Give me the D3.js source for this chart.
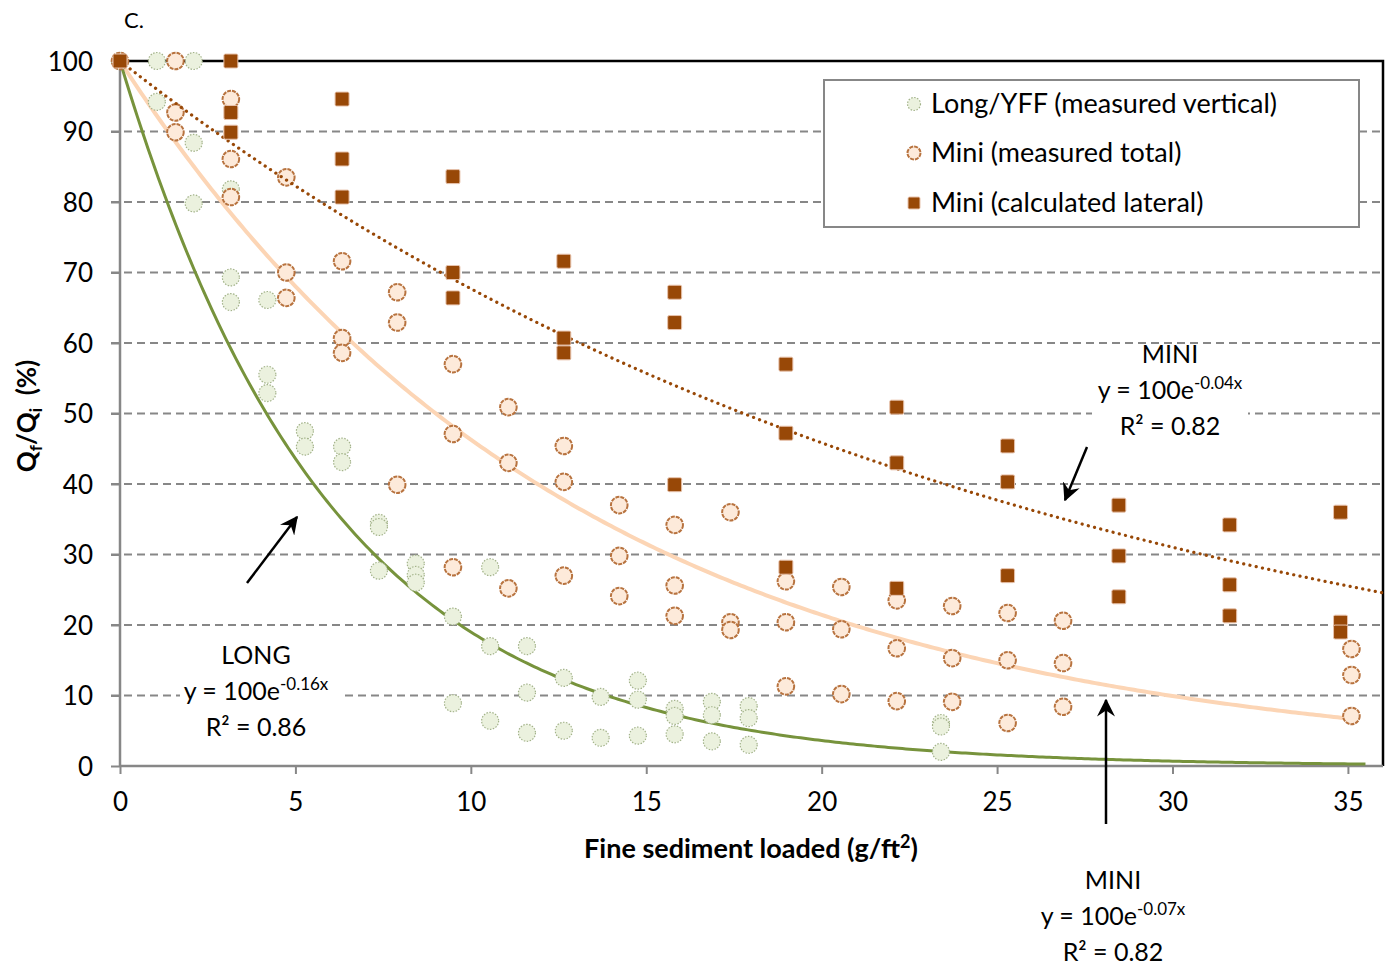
<!DOCTYPE html>
<html><head><meta charset="utf-8">
<script src="https://cdn.jsdelivr.net/npm/d3@7"></script>
<style>body{margin:0;background:#fff}svg{display:block}text{font-family:Lato,"Open Sans",sans-serif}</style>
</head><body>
<svg id="c" width="1388" height="967"></svg>
<script>
// ---------- data ----------
const xTicks = [0,5,10,15,20,25,30,35];
const yTicks = [0,10,20,30,40,50,60,70,80,90,100];

const longX = [0,1.05,1.05,2.1,2.1,2.1,3.16,3.16,3.16,4.2,4.2,4.2,5.27,5.27,6.33,6.33,7.38,7.38,7.38,8.43,8.43,8.43,9.49,9.49,10.55,10.55,10.55,11.6,11.6,11.6,12.65,12.65,13.7,13.7,14.76,14.76,14.76,15.81,15.81,15.81,16.87,16.87,16.87,17.92,17.92,17.92,23.4,23.4,23.4];
const longY = [100,100,94.2,100,88.4,79.8,81.8,69.3,65.8,66.1,55.5,52.9,47.5,45.3,45.3,43.1,34.5,33.9,27.7,28.7,27.1,26,21.2,8.9,28.2,17,6.4,17,10.4,4.7,12.5,5,9.8,4,12.1,9.4,4.3,8.1,7.1,4.5,9.1,7.2,3.5,8.5,6.8,3,6.1,5.6,2];

const miniTotX = [0,1.58,1.58,1.58,3.16,3.16,3.16,4.74,4.74,4.74,6.33,6.33,6.33,7.9,7.9,7.9,9.49,9.49,9.49,11.07,11.07,11.07,12.65,12.65,12.65,14.23,14.23,14.23,15.81,15.81,15.81,17.4,17.4,17.4,18.98,18.98,18.98,20.56,20.56,20.56,22.14,22.14,22.14,23.72,23.72,23.72,25.3,25.3,25.3,26.88,26.88,26.88,35.1,35.1,35.1];
const miniTotY = [100,100,92.7,89.9,94.6,86.1,80.7,83.5,70,66.4,71.6,60.7,58.6,67.2,62.9,39.9,57,47.1,28.2,50.9,43,25.2,45.4,40.3,27,37,29.8,24.1,34.2,25.6,21.3,36,20.4,19.3,26.2,20.4,11.3,25.4,19.4,10.2,23.5,16.7,9.2,22.7,15.3,9.1,21.7,15,6.1,20.6,14.6,8.4,16.6,12.9,7.1];

const miniLatX = [0,3.16,3.16,3.16,6.33,6.33,6.33,9.49,9.49,9.49,12.65,12.65,12.65,15.81,15.81,15.81,18.98,18.98,18.98,22.14,22.14,22.14,25.3,25.3,25.3,28.47,28.47,28.47,31.63,31.63,31.63,34.79,34.79,34.79];
const miniLatY = [100,100,92.7,89.9,94.6,86.1,80.7,83.6,70,66.4,71.6,60.7,58.6,67.2,62.9,39.9,57,47.2,28.2,50.9,43,25.2,45.4,40.3,27,37,29.8,24,34.2,25.7,21.3,36,20.4,19.0];

// fitted exponential trendlines y = 100 e^(-k x)
const trendK = {long:0.166, miniTot:0.077, miniLat:0.039};
const trendEnd = {long:35.5, miniTot:35.15, miniLat:36};

const legendLabels = ["Long/YFF (measured vertical)","Mini (measured total)","Mini (calculated lateral)"];

// ---------- layout ----------
const svg = d3.select("#c");
const X = d3.scaleLinear().domain([0,36]).range([120,1383]);
const Y = d3.scaleLinear().domain([0,100]).range([766,61]);
const GRAY = "#878787";

// gridlines
svg.append("g").selectAll("line").data(yTicks.filter(d=>d>0&&d<100)).join("line")
  .attr("x1",111).attr("x2",X(36)).attr("y1",d=>Y(d)).attr("y2",d=>Y(d))
  .attr("stroke",GRAY).attr("stroke-width",2).attr("stroke-dasharray","8,5");

// plot border top/right
svg.append("path").attr("d",`M${X(0)},${Y(100)}H${X(36)}V${Y(0)}`)
  .attr("fill","none").attr("stroke","#000").attr("stroke-width",2.5);

// axes
const yAxis = d3.axisLeft(Y).tickValues(yTicks).tickSize(9).tickFormat(d3.format("d"));
const gy = svg.append("g").attr("transform",`translate(${X(0)},0)`).call(yAxis);
const xAxis = d3.axisBottom(X).tickValues(xTicks).tickSize(8).tickFormat(d3.format("d"));
const gx = svg.append("g").attr("transform",`translate(0,${Y(0)})`).call(xAxis);
[gx,gy].forEach(g=>{
  g.select(".domain").attr("stroke",GRAY).attr("stroke-width",2.5);
  g.selectAll(".tick line").attr("stroke",GRAY).attr("stroke-width",2);
  g.selectAll(".tick text").attr("fill","#000").style("font-size","26px").style("font-family","Lato");
});
gy.select(".domain").attr("d",`M0,${Y(100)}V${Y(0)}`);
gx.select(".domain").attr("d",`M${X(0)},0H${X(36)}`);
gy.selectAll(".tick text").attr("x",-27).attr("dy","0.36em");
gx.selectAll(".tick text").attr("y",27);

// trendlines
function curve(k,end){ const pts=d3.range(0,end+1e-9,0.1).concat([end]); return d3.line().x(d=>X(d)).y(d=>Y(100*Math.exp(-k*d)))(pts); }
svg.append("path").attr("d",curve(trendK.miniTot,trendEnd.miniTot)).attr("fill","none")
  .attr("stroke","#fcd5b5").attr("stroke-width",4);
svg.append("path").attr("d",curve(trendK.long,trendEnd.long)).attr("fill","none")
  .attr("stroke","#77933c").attr("stroke-width",3);

// markers
const longPts = longX.map((x,i)=>[x,longY[i]]);
const totPts = miniTotX.map((x,i)=>[x,miniTotY[i]]);
const latPts = miniLatX.map((x,i)=>[x,miniLatY[i]]);

function greenCircle(sel,r){ sel.attr("r",r).attr("fill","#ebf1de").attr("stroke","#a3b38a").attr("stroke-width",1.2).attr("stroke-dasharray","1.5,1.5"); }
function orangeCircle(sel,r){ sel.attr("r",r).attr("fill","#fdeada").attr("stroke","#b8733f").attr("stroke-width",2).attr("stroke-dasharray","4,1"); }
function square(sel,s){ sel.attr("width",s).attr("height",s).attr("rx",1.5).attr("fill","#984807").attr("stroke","#e8c3ad").attr("stroke-width",1); }

svg.append("g").selectAll("circle").data(longPts).join("circle")
  .attr("cx",d=>X(d[0])).attr("cy",d=>Y(d[1])).call(greenCircle,8.5);
svg.append("g").selectAll("circle").data(totPts).join("circle")
  .attr("cx",d=>X(d[0])).attr("cy",d=>Y(d[1])).call(orangeCircle,8.3);
svg.append("path").attr("d",curve(trendK.miniLat,trendEnd.miniLat)).attr("fill","none")
  .attr("stroke","#984807").attr("stroke-width",3.2).attr("stroke-linecap","round").attr("stroke-dasharray","0.1,6.3");
svg.append("g").selectAll("rect").data(latPts).join("rect")
  .attr("x",d=>X(d[0])-7).attr("y",d=>Y(d[1])-7).call(square,14);

// legend
const lg = svg.append("g");
lg.append("rect").attr("x",824).attr("y",80).attr("width",535).attr("height",147)
  .attr("fill","#fff").attr("stroke",GRAY).attr("stroke-width",2);
const ly = [104,153,203];
lg.append("circle").attr("cx",914).attr("cy",ly[0]).call(greenCircle,6.5);
lg.append("circle").attr("cx",914).attr("cy",ly[1]).call(orangeCircle,6.5);
lg.append("rect").attr("x",908).attr("y",ly[2]-6).call(square,12);
lg.selectAll("text").data(legendLabels).join("text").attr("x",931).attr("y",(d,i)=>ly[i]).attr("dy","0.35em")
  .style("font-size","27px").text(d=>d);

// annotations (white-backed text boxes)
function annot(cx,y0,name,k,r2,box){
  const g=svg.append("g").attr("text-anchor","middle").style("font-size","25px");
  if(box) g.append("rect").attr("x",box[0]).attr("y",box[1]).attr("width",box[2]).attr("height",box[3]).attr("fill","#fff");
  g.append("text").attr("x",cx).attr("y",y0).text(name);
  const t=g.append("text").attr("x",cx).attr("y",y0+36);
  t.append("tspan").text("y = 100e");
  t.append("tspan").attr("dy",-10).style("font-size","17px").text(k);
  g.append("text").attr("x",cx).attr("y",y0+72).text("R² = "+r2);
}
annot(1170,363,"MINI","-0.04x","0.82",[1092,348,156,92]);
annot(256,664,"LONG","-0.16x","0.86",[180,636,162,108]);
annot(1113,889,"MINI","-0.07x","0.82",null);

// arrows
const defs=svg.append("defs");
defs.append("marker").attr("id","ah").attr("viewBox","0 0 12 12").attr("refX",11).attr("refY",6)
  .attr("markerWidth",18).attr("markerHeight",18).attr("markerUnits","userSpaceOnUse").attr("orient","auto")
  .append("path").attr("d","M0,0L12,6L0,12L4,6Z").attr("fill","#000");
[[247,583,297,517],[1087,447,1065,500],[1106,824,1106,700]].forEach(a=>{
  svg.append("line").attr("x1",a[0]).attr("y1",a[1]).attr("x2",a[2]).attr("y2",a[3])
    .attr("stroke","#000").attr("stroke-width",2.5).attr("marker-end","url(#ah)");
});

// titles
svg.append("text").attr("x",124).attr("y",28).style("font-size","22px").text("C.");
const xt=svg.append("text").attr("x",751).attr("y",858).attr("text-anchor","middle")
  .style("font-size","27px").style("font-weight","bold");
xt.append("tspan").text("Fine sediment loaded (g/ft");
xt.append("tspan").attr("dy",-10).style("font-size","18px").text("2");
xt.append("tspan").attr("dy",10).text(")");
const yt=svg.append("text").attr("transform","translate(36,416) rotate(-90)").attr("text-anchor","middle")
  .style("font-size","26px").style("font-weight","bold").style("white-space","pre");
yt.append("tspan").text("Q");
yt.append("tspan").attr("dy",6).style("font-size","17px").text("f");
yt.append("tspan").attr("dy",-6).text("/Q");
yt.append("tspan").attr("dy",6).style("font-size","17px").text("i");
yt.append("tspan").attr("dy",-6).text("  (%)");
</script>
</body></html>
